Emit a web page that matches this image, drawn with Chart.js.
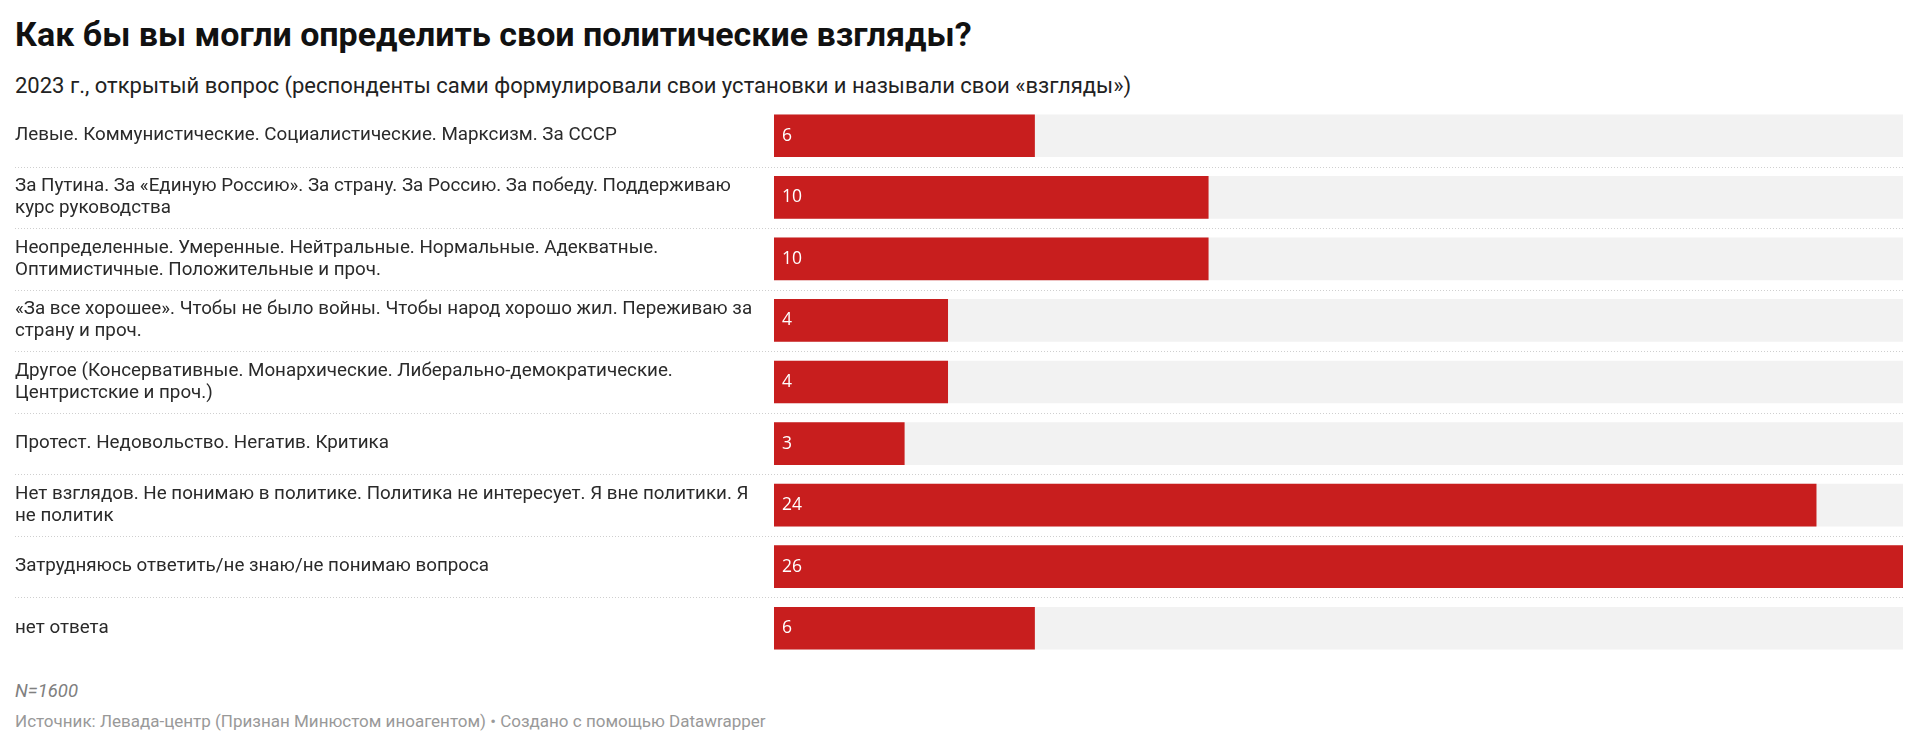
<!DOCTYPE html>
<html lang="ru">
<head>
<meta charset="utf-8">
<script src="https://cdn.jsdelivr.net/npm/chart.js@4/dist/chart.umd.min.js"></script>
<style>
  html, body { margin: 0; padding: 0; background: #fff; }
  body { width: 1920px; height: 748px; position: relative; overflow: hidden; font-family: Roboto, "Noto Sans", sans-serif; }
  .title { position: absolute; left: 15px; top: 14px; font-size: 34px; font-weight: 700; color: #111; line-height: 1.2; white-space: nowrap; }
  .subtitle { position: absolute; left: 15px; top: 73px; font-size: 22px; color: #222; line-height: 1.2; white-space: nowrap; }
  .note { position: absolute; left: 15px; top: 680px; font-size: 18.5px; font-style: italic; color: #808080; line-height: 1.2; }
  .source { position: absolute; left: 15px; top: 711px; font-size: 17px; color: #999; line-height: 1.2; white-space: nowrap; }
  #wrap { position: absolute; left: 15px; top: 105px; width: 1888px; height: 554px; }
</style>
</head>
<body>
<div class="title">Как бы вы могли определить свои политические взгляды?</div>
<div class="subtitle">2023 г., открытый вопрос (респонденты сами формулировали свои установки и называли свои «взгляды»)</div>
<div id="wrap"><canvas id="chart"></canvas></div>
<div class="note">N=1600</div>
<div class="source">Источник: Левада-центр (Признан Минюстом иноагентом) • Создано с помощью Datawrapper</div>

<script>
// ── данные ────────────────────────────────────────────────
const categories = [
  ["Левые. Коммунистические. Социалистические. Марксизм. За СССР"],
  ["За Путина. За «Единую Россию». За страну. За Россию. За победу. Поддерживаю", "курс руководства"],
  ["Неопределенные. Умеренные. Нейтральные. Нормальные. Адекватные.", "Оптимистичные. Положительные и проч."],
  ["«За все хорошее». Чтобы не было войны. Чтобы народ хорошо жил. Переживаю за", "страну и проч."],
  ["Другое (Консервативные. Монархические. Либерально-демократические.", "Центристские и проч.)"],
  ["Протест. Недовольство. Негатив. Критика"],
  ["Нет взглядов. Не понимаю в политике. Политика не интересует. Я вне политики. Я", "не политик"],
  ["Затрудняюсь ответить/не знаю/не понимаю вопроса"],
  ["нет ответа"],
];
const values = [6, 10, 10, 4, 4, 3, 24, 26, 6];

const trackMax = Math.max(...values);
const track    = values.map(() => trackMax);

const BAR_RED   = "#c81e1e";
const TRACK_BG  = "#f2f2f2";
const LABEL_W   = 759;

// ── пунктир между строками ────────────────────────────────
const separators = {
  id: "separators",
  beforeDatasetsDraw(chart) {
    const { ctx, chartArea, scales: { y } } = chart;
    ctx.save();
    ctx.strokeStyle = "#cfcfcf";
    ctx.lineWidth = 1;
    ctx.setLineDash([1, 2]);
    for (let i = 1; i < categories.length; i++) {
      const yy = Math.round((y.getPixelForTick(i - 1) + y.getPixelForTick(i)) / 2) + 0.5;
      ctx.beginPath();
      ctx.moveTo(0, yy);
      ctx.lineTo(chartArea.right, yy);
      ctx.stroke();
    }
    ctx.restore();
  },
};

// ── значения внутри столбцов ──────────────────────────────
const valueLabels = {
  id: "valueLabels",
  afterDatasetsDraw(chart) {
    const { ctx } = chart;
    const meta = chart.getDatasetMeta(0);
    ctx.save();
    ctx.fillStyle = "#fff";
    ctx.font = "17.5px 'Open Sans', sans-serif";
    ctx.textAlign = "left";
    ctx.textBaseline = "middle";
    meta.data.forEach((bar, i) => {
      ctx.fillText(String(values[i]), bar.base + 8, bar.y);
    });
    ctx.restore();
  },
};

new Chart(document.getElementById("chart"), {
  type: "bar",
  data: {
    labels: categories,
    datasets: [
      {
        data: values,
        backgroundColor: BAR_RED,
        barThickness: 42,
        grouped: false,
        order: 0,
      },
      {
        data: track,
        backgroundColor: TRACK_BG,
        barThickness: 42,
        grouped: false,
        order: 1,
      },
    ],
  },
  options: {
    indexAxis: "y",
    responsive: true,
    maintainAspectRatio: false,
    animation: false,
    layout: { padding: 0 },
    plugins: {
      legend: { display: false },
      tooltip: { enabled: false },
    },
    scales: {
      x: {
        display: false,
        min: 0,
        max: trackMax,
      },
      y: {
        afterFit: scale => {
          scale.width = LABEL_W;
          scale.paddingTop = 0;
          scale.paddingBottom = 0;
        },
        grid: { display: false },
        border: { display: false },
        ticks: {
          autoSkip: false,
          crossAlign: "far",
          padding: 0,
          color: "#2a2a2a",
          font: { family: "Roboto", size: 18.8, lineHeight: 1.17 },
        },
      },
    },
  },
  plugins: [separators, valueLabels],
});
</script>
</body>
</html>
